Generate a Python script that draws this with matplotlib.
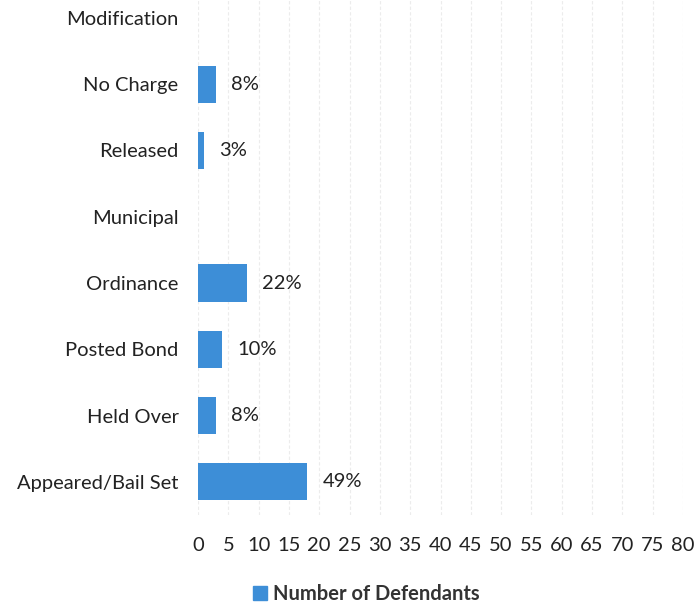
import matplotlib.pyplot as plt
from matplotlib.patches import Patch

categories = ["Appeared/Bail Set", "Held Over", "Posted Bond", "Ordinance",
              "Municipal", "Released", "No Charge", "Modification"]
defendants = [18, 3, 4, 8, None, 1, 3, None]
pct_labels = ["49%", "8%", "10%", "22%", "", "3%", "8%", ""]
xticks = list(range(0, 81, 5))

plt.rcParams['font.family'] = ['Lato', 'DejaVu Sans']

fig = plt.figure(figsize=(6.99, 6.11), dpi=100)
W, H = 699, 611
ax = fig.add_axes([198 / W, 1 - 515 / H, (683 - 198) / W, 515 / H])

ypos = list(range(len(categories)))
vals = [v if v is not None else 0 for v in defendants]
bars = ax.barh(ypos, vals, height=0.56, color="#3d8ed7", zorder=3)
for b, v, lab in zip(bars, defendants, pct_labels):
    if v is None:
        b.set_visible(False)
        continue
    ax.annotate(lab, (b.get_width(), b.get_y() + b.get_height() / 2),
                xytext=(11, 0), textcoords="offset points", va="center",
                ha="left", fontsize=14.5, color="#222222")

ax.set_xlim(0, 80)
ax.set_ylim(-0.5, 7.27)
ax.set_xticks(xticks)
ax.set_yticks(ypos)
ax.set_yticklabels(categories)
ax.tick_params(axis="both", length=0, labelsize=14.5, colors="#222222")
ax.tick_params(axis="x", pad=16)
ax.tick_params(axis="y", pad=14)
ax.grid(axis="x", color="#ececec", linewidth=0.8, linestyle=(0, (3, 2)), zorder=0)
for s in ax.spines.values():
    s.set_visible(False)

fig.legend(handles=[Patch(color="#3d8ed7", label="Number of Defendants")],
           loc="center", bbox_to_anchor=(366 / W, 1 - 594 / H), frameon=False,
           handlelength=0.7, handleheight=0.7, handletextpad=0.3,
           prop={"size": 14.5, "weight": "bold"}, labelcolor="#333333")

fig.savefig("out.png", dpi=100)
